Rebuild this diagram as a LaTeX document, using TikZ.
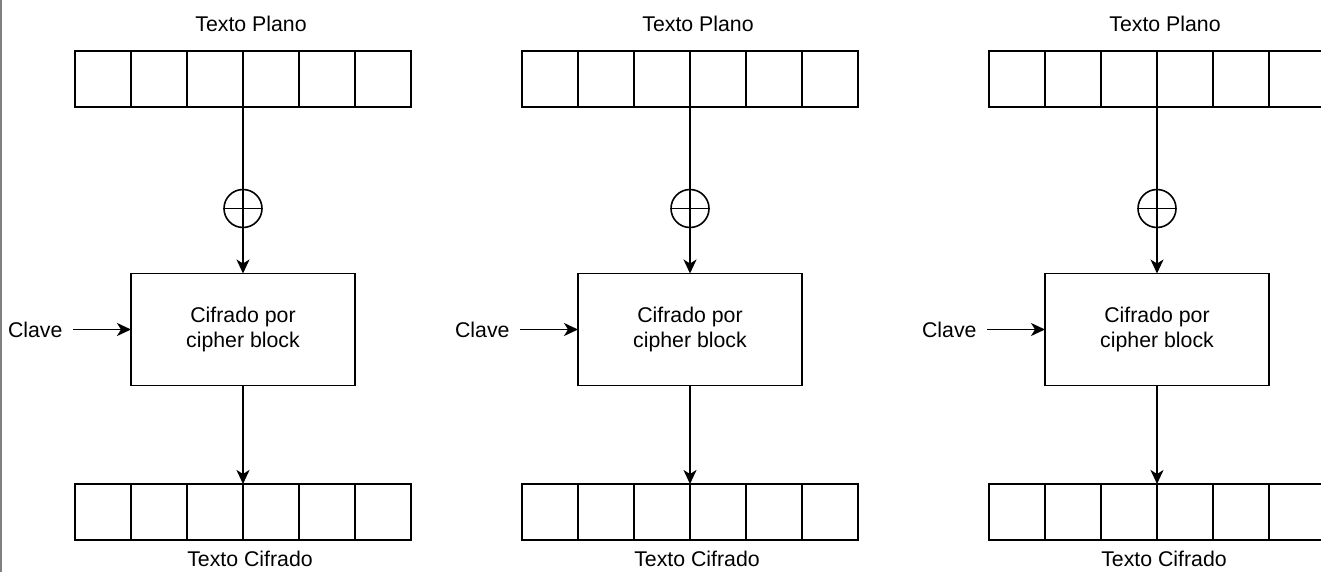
\documentclass[tikz,border=0pt]{standalone}
\usepackage{fontspec}
\setmainfont{Liberation Sans}
\usetikzlibrary{arrows.meta}
\begin{document}
\begin{tikzpicture}[x=1pt,y=-1pt,
  every node/.style={font=\fontsize{21.3}{25.5}\selectfont},
  cell/.style={draw, line width=1.9pt, minimum width=56pt, minimum height=56pt, inner sep=0pt, outer sep=0pt},
  xorsym/.style={draw, circle, line width=1.6pt, minimum size=38pt, inner sep=0pt, outer sep=0pt,
    path picture={\draw[line width=1.6pt] (path picture bounding box.north) -- (path picture bounding box.south)
      (path picture bounding box.west) -- (path picture bounding box.east);}},
  cipher/.style={draw, line width=1.9pt, minimum width=224pt, minimum height=112pt, inner sep=0pt, outer sep=0pt, align=center},
  lbl/.style={inner sep=0pt, outer sep=0pt},
  conn/.style={line width=1.9pt},
  arr/.style={line width=1.9pt, -{Stealth[length=14pt, width=13pt, inset=4pt]}}
]
\useasboundingbox (0,0) rectangle (1321,572);
\clip (0,0) rectangle (1321,572);
\fill[white] (0,0) rectangle (1321,572);
\draw[gray, line width=1.6pt] (0.8,0) -- (0.8,572);
\foreach \i/\xl in {1/75, 2/522, 3/989} {
  \pgfmathsetmacro\xc{\xl+168}
  \foreach \j in {1,...,6} {
    \node[cell] (t\i-\j) at ({\xl+28+56*(\j-1)}, 79) {};
    \node[cell] (b\i-\j) at ({\xl+28+56*(\j-1)}, 512) {};
  }
  \node[xorsym] (x\i) at (\xc, 208.5) {};
  \node[cipher] (c\i) at (\xc, 329.5) {Cifrado por\\cipher block};
  \node[lbl, anchor=east] (k\i) at (\xl-12.5, 329.5) {Clave};
  \node[lbl] (tp\i) at (\xc+8, 24) {Texto Plano};
  \node[lbl] (tc\i) at (\xc+7, 559) {Texto Cifrado};
  \draw[conn] (t\i-3.south east) -- (x\i);
  \draw[arr] (x\i) -- (c\i);
  \draw[arr] (c\i) -- (b\i-3.north east);
  \draw[arr, shorten <=10.5pt] (k\i) -- (c\i);
}
\end{tikzpicture}
\end{document}
